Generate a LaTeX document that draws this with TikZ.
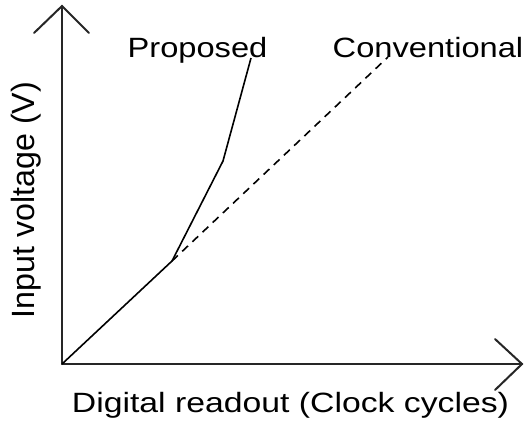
\documentclass[tikz,border=0pt]{standalone}
\usepackage{fontspec}
\setmainfont{Liberation Sans}
\begin{document}
\begin{tikzpicture}[x=1bp,y=-1bp,
  axis/.style={line width=2bp, black!85, line cap=round, line join=miter},
  curve/.style={line width=1.6bp, black},
  dashcurve/.style={line width=1.6bp, black, dash pattern=on 8bp off 6bp},
  hlabel/.style={anchor=base, inner sep=0pt, font=\fontsize{28}{34}\selectfont},
  vlabel/.style={anchor=base, inner sep=0pt, rotate=90, font=\fontsize{32.3}{38}\selectfont}]
\useasboundingbox (0,0) rectangle (528,423);
\coordinate (O) at (62,364);
\coordinate (ytip) at (62,6);
\coordinate (xtip) at (522,364);
\coordinate (K) at (172,261);
\coordinate (P1) at (223,161);
\coordinate (P2) at (251,58);
\coordinate (C2) at (388,57);
% axes
\draw[axis] (O) -- (ytip);
\draw[axis] (O) -- (xtip);
\draw[axis] ([shift={(-28,27)}]ytip) -- (ytip) -- ([shift={(27,27)}]ytip);
\draw[axis] ([shift={(-27,-25)}]xtip) -- (xtip) -- ([shift={(-27,26)}]xtip);
% curves
\draw[curve, line join=round] (O) -- (K) -- (P1) -- (P2);
\draw[dashcurve] (K) -- (C2);
% labels
\node[hlabel] (prop) at (197.5,57) {\scalebox{1.17}[1]{Proposed}};
\node[hlabel] (conv) at (428,57) {\scalebox{1.17}[1]{Conventional}};
\node[hlabel] (xlab) at (290.5,412) {\scalebox{1.21}[1]{Digital readout (Clock cycles)}};
\node[vlabel] (ylab) at (34,200) {Input voltage (V)};
\end{tikzpicture}
\end{document}
